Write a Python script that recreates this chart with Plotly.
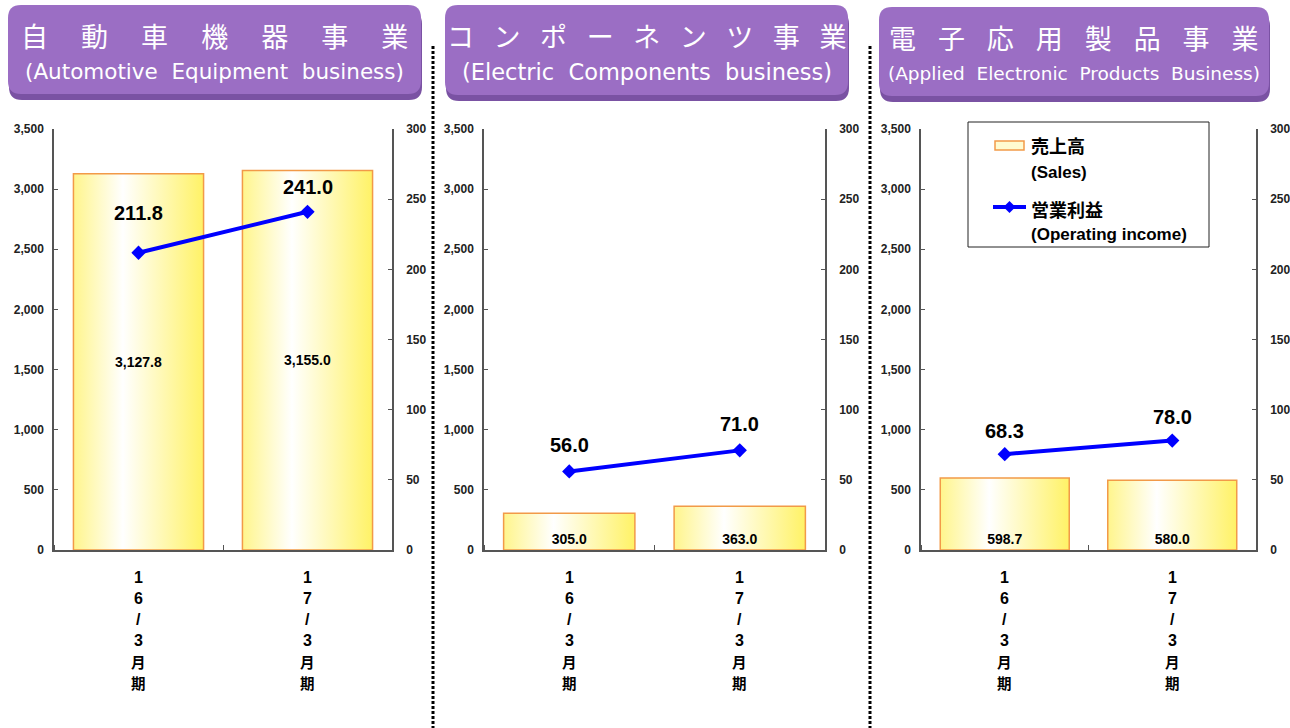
import plotly.graph_objects as go

# ---------------- data ----------------
PERIODS = ["16/3月期", "17/3月期"]
SEGMENTS_JA = ["自動車機器事業", "コンポーネンツ事業", "電子応用製品事業"]
SEGMENTS_EN = ["(Automotive Equipment business)",
               "(Electric Components business)",
               "(Applied Electronic Products Business)"]
SALES_AUTO = [3127.8, 3155.0]
SALES_COMP = [305.0, 363.0]
SALES_APPL = [598.7, 580.0]
INCOME_AUTO = [211.8, 241.0]
INCOME_COMP = [56.0, 71.0]
INCOME_APPL = [68.3, 78.0]
SALES_TICKS = [0, 500, 1000, 1500, 2000, 2500, 3000, 3500]
INCOME_TICKS = [0, 50, 100, 150, 200, 250, 300]
SALES_NAME_JA, SALES_NAME_EN = "売上高", "(Sales)"
INCOME_NAME_JA, INCOME_NAME_EN = "営業利益", "(Operating income)"

# ---------------- layout / style ----------------
W, H = 1290, 728
PANEL_X = [(54, 392), (484, 825), (921, 1256)]
PLOT_TOP, PLOT_BOTTOM = 129, 550
BAR_WIDTH = 0.77
HEADER_BOX = [(8, 5, 421, 94), (445, 5, 848, 95), (879, 7, 1269, 96)]
HEADER_SEP = ["\u3000 ", "\u2002 ", "\u2002\u2005\u200a"]
SUB_SIZE = [21.5, 22.5, 18.5]
SEPARATORS_X = [433, 870]
INCOME_LABEL_LIFT = [[40, 25], [26, 26], [23, 24]]
SALES_LABEL_POS = ["middle", "start", "start"]
PERIOD_LABEL_TOP, PERIOD_LINE_STEP = 577, 21
LEGEND_BOX = (968, 122, 1209, 247)
LEGEND_TEXT_X = 1029
LEGEND_ROWS_Y = [145, 172, 209, 235]
PURPLE = "#9b6ec4"
PURPLE_DARK = "#7a52a3"
BAR_EDGE = "#f29a48"
LINE_BLUE = "#0000ff"
GRAD = [[0, "#fff58c"], [0.38, "#ffffff"], [1, "#fff266"]]
AXIS_COLOR = "#555555"
NUM_FONT = "Arial, Liberation Sans, sans-serif"
JP_FONT = "Noto Sans CJK JP, sans-serif"


def fx(px):
    return px / W


def fy(py):
    return 1 - py / H


def rounded_rect(x0, y0, x1, y1, r):
    rx, ry = r / W, r / H
    X0, X1, Y0, Y1 = fx(x0), fx(x1), fy(y0), fy(y1)
    return (f"M{X0 + rx},{Y0} L{X1 - rx},{Y0} Q{X1},{Y0} {X1},{Y0 - ry} "
            f"L{X1},{Y1 + ry} Q{X1},{Y1} {X1 - rx},{Y1} L{X0 + rx},{Y1} "
            f"Q{X0},{Y1} {X0},{Y1 + ry} L{X0},{Y0 - ry} Q{X0},{Y0} {X0 + rx},{Y0} Z")


fig = go.Figure()
panels = [(SALES_AUTO, INCOME_AUTO), (SALES_COMP, INCOME_COMP), (SALES_APPL, INCOME_APPL)]
xs = list(range(len(PERIODS)))
annotations = []
shapes = []

for p, (sales, income) in enumerate(panels):
    xa = "x" if p == 0 else f"x{p + 1}"
    base = 3 * p + 1
    yb = "y" if base == 1 else f"y{base}"
    ybar = f"y{base + 1}"
    yr = f"y{base + 2}"

    # gradient fill of each bar (drawn on base axis, below bars)
    for i, v in enumerate(sales):
        x0, x1 = xs[i] - BAR_WIDTH / 2, xs[i] + BAR_WIDTH / 2
        fig.add_trace(go.Scatter(
            x=[x0, x1, x1, x0, x0], y=[0, 0, v, v, 0], mode="lines",
            fill="toself", fillgradient=dict(type="horizontal", colorscale=GRAD),
            line=dict(width=0), showlegend=False, hoverinfo="skip",
            xaxis=xa, yaxis=yb))

    # sales bars
    fig.add_trace(go.Bar(
        x=xs, y=sales, width=BAR_WIDTH, name=f"{SALES_NAME_JA} {SALES_NAME_EN}",
        showlegend=False,
        marker=dict(color="rgba(255,250,200,0)", line=dict(color=BAR_EDGE, width=1.5)),
        text=[f"{v:,.1f}" for v in sales], textposition="inside",
        insidetextanchor=SALES_LABEL_POS[p],
        textfont=dict(family=NUM_FONT, size=14, color="black", weight="bold"),
        xaxis=xa, yaxis=ybar))

    # operating income line
    fig.add_trace(go.Scatter(
        x=xs, y=income, mode="lines+markers", name=f"{INCOME_NAME_JA} {INCOME_NAME_EN}",
        showlegend=False,
        line=dict(color=LINE_BLUE, width=4),
        marker=dict(symbol="diamond", size=11, color=LINE_BLUE),
        xaxis=xa, yaxis=yr))

    for i, v in enumerate(income):
        annotations.append(dict(
            x=xs[i], y=v, xref=xa, yref=yr, text=f"{v:.1f}", showarrow=False,
            yshift=INCOME_LABEL_LIFT[p][i], xanchor="center", yanchor="middle",
            font=dict(family=NUM_FONT, size=20, color="black", weight="bold")))

    # vertical period labels under each bar
    for i, label in enumerate(PERIODS):
        for k, ch in enumerate(label):
            cjk = ord(ch) > 0x2000
            annotations.append(dict(
                x=xs[i], xref=xa, y=fy(PERIOD_LABEL_TOP + k * PERIOD_LINE_STEP), yref="paper",
                text=ch, showarrow=False, xanchor="center", yanchor="middle",
                font=dict(family=JP_FONT if cjk else NUM_FONT, size=14.5 if cjk else 16,
                          color="black", weight="bold")))

    xl, xr = PANEL_X[p]
    dom_y = [fy(PLOT_BOTTOM), fy(PLOT_TOP)]
    fig.layout[f"xaxis{'' if p == 0 else p + 1}"] = dict(
        domain=[fx(xl), fx(xr)], range=[-0.5, 1.5], anchor=yb,
        tickmode="array", tickvals=xs, ticktext=PERIODS, ticks="",
        showticklabels=False,
        showline=True, linecolor=AXIS_COLOR, linewidth=1.5,
        showgrid=False, zeroline=False, fixedrange=True)
    fig.layout[f"xaxis{'' if p == 0 else p + 1}"].minor = dict(
        ticks="inside", tick0=0.5, dtick=1, ticklen=5,
        tickcolor=AXIS_COLOR, tickwidth=1, showgrid=False)
    fig.layout[f"yaxis{'' if base == 1 else base}"] = dict(
        domain=dom_y, range=[0, 3500], anchor=xa, side="left",
        tickmode="array", tickvals=SALES_TICKS, tickformat=",",
        ticks="inside", ticklen=4, tickcolor=AXIS_COLOR, ticklabelstandoff=6,
        tickfont=dict(family=NUM_FONT, size=12, color="#222222", weight="bold"),
        showline=True, linecolor=AXIS_COLOR, linewidth=1.5,
        showgrid=False, zeroline=False, fixedrange=True)
    fig.layout[f"yaxis{base + 1}"] = dict(
        domain=dom_y, range=[0, 3500], anchor=xa, overlaying=yb, visible=False,
        fixedrange=True)
    fig.layout[f"yaxis{base + 2}"] = dict(
        domain=dom_y, range=[0, 300], anchor=xa, overlaying=yb, side="right",
        tickmode="array", tickvals=INCOME_TICKS,
        ticks="inside", ticklen=4, tickcolor=AXIS_COLOR, ticklabelstandoff=10,
        tickfont=dict(family=NUM_FONT, size=12, color="#222222", weight="bold"),
        showline=True, linecolor=AXIS_COLOR, linewidth=1.5,
        showgrid=False, zeroline=False, fixedrange=True)

    # header box
    hx0, hy0, hx1, hy1 = HEADER_BOX[p]
    shapes.append(dict(type="path", xref="paper", yref="paper",
                       path=rounded_rect(hx0 + 1, hy0 + 6, hx1 + 1, hy1 + 6, 13),
                       fillcolor=PURPLE_DARK, line=dict(width=0), layer="above"))
    shapes.append(dict(type="path", xref="paper", yref="paper",
                       path=rounded_rect(hx0, hy0, hx1, hy1, 13),
                       fillcolor=PURPLE, line=dict(width=0), layer="above"))
    cx = (hx0 + hx1) / 2
    annotations.append(dict(
        x=fx(cx), y=fy(hy0 + 30), xref="paper", yref="paper", showarrow=False,
        xanchor="center", yanchor="middle",
        text=HEADER_SEP[p].join(SEGMENTS_JA[p]),
        font=dict(family=JP_FONT, size=27, color="white")))
    annotations.append(dict(
        x=fx(cx), y=fy(hy0 + 67), xref="paper", yref="paper", showarrow=False,
        xanchor="center", yanchor="middle",
        text=SEGMENTS_EN[p].replace(" ", " \u00a0"),
        font=dict(family="DejaVu Sans, sans-serif", size=SUB_SIZE[p], color="white")))

for sx in SEPARATORS_X:
    shapes.append(dict(type="line", xref="paper", yref="paper",
                       x0=fx(sx), x1=fx(sx), y0=fy(46), y1=0,
                       line=dict(color="black", width=3, dash="3px,2px")))

# ---------------- legend (drawn in the third panel) ----------------
lx0, ly0, lx1, ly1 = LEGEND_BOX
shapes.append(dict(type="rect", xref="paper", yref="paper",
                   x0=fx(lx0), x1=fx(lx1), y0=fy(ly1), y1=fy(ly0),
                   fillcolor="white", line=dict(color="#222222", width=1), layer="above"))
sym_x0, sym_x1 = LEGEND_TEXT_X - 34, LEGEND_TEXT_X - 5
shapes.append(dict(type="rect", xref="paper", yref="paper",
                   x0=fx(sym_x0), x1=fx(sym_x1),
                   y0=fy(LEGEND_ROWS_Y[0] + 5), y1=fy(LEGEND_ROWS_Y[0] - 4),
                   fillcolor="#fffbd0", line=dict(color=BAR_EDGE, width=1.5), layer="above"))
line_y = LEGEND_ROWS_Y[2] - 2
shapes.append(dict(type="line", xref="paper", yref="paper",
                   x0=fx(sym_x0 - 2), x1=fx(sym_x1 + 2), y0=fy(line_y), y1=fy(line_y),
                   line=dict(color=LINE_BLUE, width=4), layer="above"))
dcx, dr = (sym_x0 + sym_x1) / 2, 6
shapes.append(dict(type="path", xref="paper", yref="paper",
                   path=(f"M{fx(dcx - dr)},{fy(line_y)} L{fx(dcx)},{fy(line_y - dr)} "
                         f"L{fx(dcx + dr)},{fy(line_y)} L{fx(dcx)},{fy(line_y + dr)} Z"),
                   fillcolor=LINE_BLUE, line=dict(width=0), layer="above"))
legend_texts = [(SALES_NAME_JA, JP_FONT, 18), (SALES_NAME_EN, NUM_FONT, 17),
                (INCOME_NAME_JA, JP_FONT, 18), (INCOME_NAME_EN, NUM_FONT, 17)]
for (txt, fam, size), yy in zip(legend_texts, LEGEND_ROWS_Y):
    annotations.append(dict(
        x=fx(LEGEND_TEXT_X), y=fy(yy), xref="paper", yref="paper", showarrow=False,
        xanchor="left", yanchor="middle", text=txt,
        font=dict(family=fam, size=size, color="black", weight="bold")))

fig.update_layout(
    width=W, height=H, margin=dict(l=0, r=0, t=0, b=0, autoexpand=False),
    paper_bgcolor="white", plot_bgcolor="rgba(0,0,0,0)",
    barmode="overlay", showlegend=False,
    annotations=annotations, shapes=shapes, hovermode=False)

fig.write_html("out.html", config={"displayModeBar": False},
               post_script="document.body.style.margin='0';document.body.style.overflow='hidden';")
